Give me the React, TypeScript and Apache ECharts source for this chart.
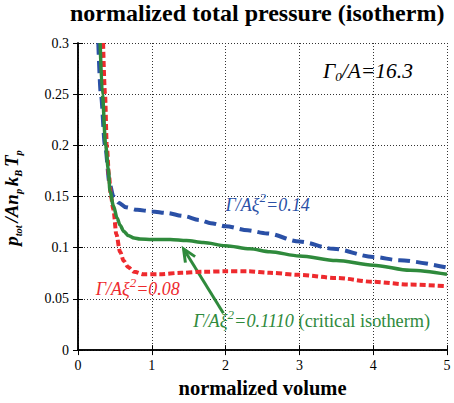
import React, { useEffect, useRef } from "react";
import * as echarts from "echarts";

const SERIF = "Liberation Serif";

// normalized volume, normalized pressure
const blueData: [number, number][] = [
  [0.275, 0.3], [0.31, 0.25], [0.366, 0.2], [0.43, 0.162], [0.48, 0.15], [0.55, 0.144],
  [0.65, 0.1395], [0.8, 0.137], [1.0, 0.1355], [1.2, 0.134], [1.43, 0.131], [1.65, 0.127],
  [1.8, 0.124], [2.0, 0.121], [2.3, 0.117], [2.56, 0.114], [3.0, 0.106], [3.46, 0.099],
  [4.0, 0.091], [4.36, 0.0877], [5.0, 0.0806],
];
const greenData: [number, number][] = [
  [0.3, 0.3], [0.33, 0.25], [0.375, 0.2], [0.41, 0.177], [0.434, 0.155], [0.48, 0.141],
  [0.53, 0.129], [0.57, 0.122], [0.62, 0.116], [0.68, 0.112], [0.76, 0.1095], [0.84, 0.1085],
  [1.0, 0.108], [1.25, 0.108], [1.47, 0.107], [1.7, 0.105], [2.0, 0.102], [2.33, 0.099],
  [2.6, 0.096], [3.0, 0.092], [3.5, 0.0875], [4.0, 0.083], [4.5, 0.078], [5.0, 0.074],
];
const redData: [number, number][] = [
  [0.34, 0.3], [0.366, 0.25], [0.39, 0.2], [0.42, 0.17], [0.447, 0.15], [0.48, 0.137],
  [0.52, 0.113], [0.57, 0.096], [0.62, 0.087], [0.68, 0.081], [0.76, 0.0765], [0.89, 0.074],
  [1.1, 0.0742], [1.4, 0.0755], [1.7, 0.0765], [2.0, 0.077], [2.3, 0.077], [2.6, 0.0755],
  [3.0, 0.0735], [3.5, 0.0705], [4.0, 0.0667], [4.5, 0.064], [5.0, 0.0624],
];

const xTicks = [0, 1, 2, 3, 4, 5];
const yTicks = [0, 0.05, 0.1, 0.15, 0.2, 0.25, 0.3];

const titleText = "normalized total pressure (isotherm)";
const xName = "normalized volume";
const blueLabel = "0.14";
const redLabel = "0.08";
const greenLabel = "0.1110";
const gammaLabel = "16.3";

// annotation anchors in data coordinates
const blueAnchor: [number, number] = [2.0, 0.135];
const redAnchor: [number, number] = [0.24, 0.0524];
const greenAnchor: [number, number] = [1.56, 0.0214];
const gammaAnchor: [number, number] = [3.32, 0.266];
const arrowFrom: [number, number] = [1.97, 0.036];
const arrowTo: [number, number] = [1.43, 0.099];

const BLUE = "#2a50a6";
const RED = "#ee2a2e";
const GREEN = "#2f8a3c";

function richStyles(color: string, size: number) {
  return {
    i: { fontFamily: SERIF, fontStyle: "italic", fontSize: size, fill: color, lineHeight: 22 },
    r: { fontFamily: SERIF, fontSize: size, fill: color, lineHeight: 22 },
    sup: { fontFamily: SERIF, fontStyle: "italic", fontSize: 13, fill: color, lineHeight: 22, padding: [0, 0, 14, 0] },
    sub: { fontFamily: SERIF, fontStyle: "italic", fontSize: 13, fill: color, lineHeight: 22, padding: [12, 0, 0, 0] },
  };
}

export default function App() {
  const ref = useRef<HTMLDivElement>(null);
  useEffect(() => {
    if (!ref.current) return;
    document.body.style.margin = "0";
    const chart = echarts.init(ref.current, undefined, { renderer: "svg" });
    const axisLabel = { fontFamily: SERIF, fontSize: 14, color: "#000" };
    const axisLine = { show: true, lineStyle: { color: "#000", width: 1.5 } };
    const axisTick = { show: true, inside: true, length: 5, lineStyle: { color: "#000", width: 1 } };
    const splitLine = { show: true, lineStyle: { color: "#333", width: 1, type: [1, 2] as any } };
    chart.setOption({
      animation: false,
      backgroundColor: "#fff",
      textStyle: { fontFamily: SERIF },
      title: {
        text: titleText,
        left: 68,
        top: 0,
        padding: [1, 2, 2, 2],
        textStyle: { fontFamily: SERIF, fontWeight: "bold", fontSize: 24, color: "#000" },
      },
      grid: { left: 78, right: 7, top: 43, bottom: 51 },
      xAxis: [
        {
          type: "value", min: xTicks[0], max: xTicks[xTicks.length - 1], interval: 1,
          axisLine, axisTick, splitLine,
          axisLabel: { ...axisLabel, margin: 8 },
          name: xName, nameLocation: "middle", nameGap: 24,
          nameTextStyle: { fontFamily: SERIF, fontWeight: "bold", fontSize: 20.5, color: "#000" },
        },
        {
          type: "value", position: "top", min: xTicks[0], max: xTicks[xTicks.length - 1], interval: 1,
          axisLine, axisTick, splitLine: { show: false }, axisLabel: { show: false },
        },
      ],
      yAxis: [
        {
          type: "value", min: yTicks[0], max: yTicks[yTicks.length - 1], interval: 0.05,
          axisLine, axisTick, splitLine,
          axisLabel: { ...axisLabel, margin: 9 },
        },
        {
          type: "value", position: "right", min: yTicks[0], max: yTicks[yTicks.length - 1], interval: 0.05,
          axisLine, axisTick, splitLine: { show: false }, axisLabel: { show: false },
        },
      ],
      series: [
        {
          type: "line", data: blueData, showSymbol: false, smooth: 0.3, smoothMonotone: "x",
          lineStyle: { color: BLUE, width: 4, type: [12, 6] },
        },
        {
          type: "line", data: redData, showSymbol: false, smooth: 0.3, smoothMonotone: "x",
          lineStyle: { color: RED, width: 4, type: [6, 3] },
        },
        {
          type: "line", data: greenData, showSymbol: false, smooth: 0.3, smoothMonotone: "x",
          lineStyle: { color: GREEN, width: 3.5 },
        },
      ],
    });

    const px = (c: [number, number]) => chart.convertToPixel({ gridIndex: 0 }, c) as number[];
    const b = px(blueAnchor);
    const r = px(redAnchor);
    const g = px(greenAnchor);
    const k = px(gammaAnchor);
    const a0 = px(arrowFrom);
    const a1 = px(arrowTo);
    const ang = Math.atan2(a1[1] - a0[1], a1[0] - a0[0]);
    const hl = 14;
    const hw = 0.42;
    const head = [
      [a1[0] - hl * Math.cos(ang - hw), a1[1] - hl * Math.sin(ang - hw)],
      [a1[0], a1[1]],
      [a1[0] - hl * Math.cos(ang + hw), a1[1] - hl * Math.sin(ang + hw)],
    ];
    const off = 7;
    chart.setOption({
      graphic: [
        {
          type: "text", x: b[0], y: b[1] - off,
          style: { text: `{i|Γ/Aξ}{sup|2}{i|=${blueLabel}}`, rich: richStyles(BLUE, 18), verticalAlign: "middle", align: "left" },
        },
        {
          type: "text", x: r[0], y: r[1] - off,
          style: { text: `{i|Γ/Aξ}{sup|2}{i|=${redLabel}}`, rich: richStyles(RED, 18), verticalAlign: "middle", align: "left" },
        },
        {
          type: "text", x: g[0], y: g[1] - off,
          style: { text: `{i|Γ/Aξ}{sup|2}{i|=${greenLabel}}{r| (critical isotherm)}`, rich: richStyles(GREEN, 18.3), verticalAlign: "middle", align: "left" },
        },
        {
          type: "text", x: k[0], y: k[1] - off,
          style: { text: `{i|Γ}{sub|0}{i|/A=${gammaLabel}}`, rich: richStyles("#000", 21.5), verticalAlign: "middle", align: "left" },
        },
        {
          type: "line",
          shape: { x1: a0[0], y1: a0[1], x2: a1[0] - 2 * Math.cos(ang), y2: a1[1] - 2 * Math.sin(ang) },
          style: { stroke: GREEN, lineWidth: 3 },
        },
        {
          type: "polyline",
          shape: { points: head },
          style: { stroke: GREEN, lineWidth: 3, fill: "none" },
        },
        {
          type: "text", x: 11, y: 198, rotation: Math.PI / 2,
          style: {
            text: "{m|p}{s|tot }{m|/An}{s|p }{m|k}{s|B }{m|T}{s|p}",
            align: "center", verticalAlign: "middle",
            rich: {
              m: { fontFamily: SERIF, fontStyle: "italic", fontWeight: "bold", fontSize: 19, fill: "#000", lineHeight: 24 },
              s: { fontFamily: SERIF, fontStyle: "italic", fontWeight: "bold", fontSize: 10.5, fill: "#000", lineHeight: 24, padding: [14, 0, 0, 0] },
            },
          },
        },
      ],
    });
    return () => chart.dispose();
  }, []);
  return <div ref={ref} style={{ width: 454, height: 403 }} />;
}
